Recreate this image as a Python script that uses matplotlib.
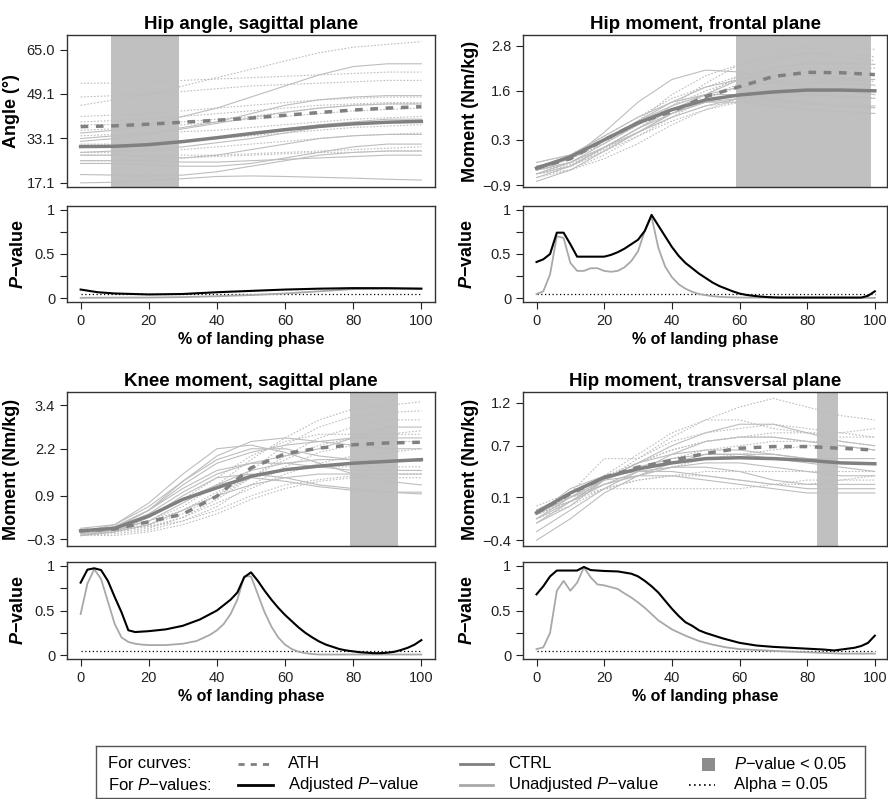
import matplotlib.pyplot as plt
from matplotlib.lines import Line2D
import numpy as np

plt.rcParams['font.family'] = ['Liberation Sans', 'DejaVu Sans']
plt.rcParams['mathtext.fontset'] = 'custom'
plt.rcParams['mathtext.rm'] = 'Liberation Sans'
plt.rcParams['mathtext.it'] = 'Liberation Sans:italic'
plt.rcParams['mathtext.bf'] = 'Liberation Sans:bold:italic'

pct = [0, 10, 20, 30, 40, 50, 60, 70, 80, 90, 100]

# ---- Hip angle, sagittal plane ----
hipang_ath = [
    [45, 47, 49, 52, 55, 58, 61, 64, 66, 67, 68],
    [53, 53, 53.5, 54, 54.5, 55, 55.5, 56, 56.5, 57, 57],
    [48, 48.5, 49, 50, 51, 52, 52.5, 53, 53.5, 54, 54],
    [41, 41.5, 42, 43, 44, 45, 46, 47, 47.5, 48, 48],
    [39, 39.5, 40, 41, 42, 43, 44, 45, 45.5, 46, 46],
    [36, 36.5, 37, 38, 39, 40, 41, 42, 43, 43.5, 44],
    [34, 34.5, 35, 35.5, 36, 37, 38, 39, 40, 40.5, 41],
    [31, 31, 31.5, 32, 33, 34, 35, 36, 37, 37.5, 38],
    [28, 28, 28.5, 29, 30, 31, 32, 33, 34, 34.5, 35],
    [25, 25, 25.5, 26, 26.5, 27, 27.5, 28, 28, 28.5, 28.5],
    [27, 27, 27, 27, 27, 27.5, 28, 28.5, 29, 29.5, 30],
    [38, 38, 38.5, 39, 40, 41, 42.5, 44, 45, 45.5, 45.5],
]
hipang_ctrl = [
    [17, 17.2, 17.8, 18.5, 19.3, 19.5, 19.3, 19, 18.7, 18.3, 18],
    [20, 19.8, 19.5, 19.8, 21, 23, 25, 27, 28, 28.5, 28.5],
    [35, 36, 38, 41, 44, 48, 52, 56, 59, 60, 60],
    [33, 34, 35, 37, 39, 42, 45, 47, 48, 48.5, 48.5],
    [28, 28.5, 29, 30, 31.5, 33, 35, 37, 38.5, 39, 39],
    [25, 25, 25, 24.5, 24.5, 25, 25.5, 26, 26.5, 27, 27],
    [30, 30.5, 31, 32, 33.5, 35, 36.5, 38, 39, 40, 40],
    [27, 27, 26.5, 26, 27, 29, 31, 33, 34, 34.5, 34.5],
    [32, 33, 34.5, 36.5, 38.5, 40.5, 42.5, 44, 45, 45.5, 45.5],
    [24, 24, 23.5, 23, 23, 24, 26, 28, 30, 31, 31],
]
hipang_ath_mean = [37.3, 37.6, 38.2, 38.9, 39.6, 40.4, 41.4, 42.4, 43.3, 44.0, 44.5]
hipang_ctrl_mean = [30.1, 30.2, 30.8, 31.9, 33.3, 34.8, 36.2, 37.4, 38.3, 38.9, 39.2]
hipang_p_x = [0, 5, 10, 20, 30, 40, 50, 60, 70, 80, 90, 100]
hipang_p_adj = [0.10, 0.07, 0.056, 0.045, 0.05, 0.07, 0.085, 0.10, 0.11, 0.116, 0.115, 0.11]
hipang_p_unadj = [0.007, 0.008, 0.009, 0.01, 0.015, 0.025, 0.038, 0.056, 0.08, 0.105, 0.112, 0.11]
hipang_sig = (9, 29)

# ---- Hip moment, frontal plane ----
hipfr_ath = [
    [-0.5, -0.3, 0.1, 0.6, 1.2, 1.8, 2.3, 2.6, 2.8, 2.8, 2.7],
    [-0.6, -0.4, 0.0, 0.5, 1.0, 1.5, 2.0, 2.4, 2.6, 2.6, 2.5],
    [-0.4, -0.2, 0.2, 0.7, 1.2, 1.6, 1.9, 2.1, 2.2, 2.2, 2.2],
    [-0.5, -0.4, 0.0, 0.4, 0.8, 1.1, 1.3, 1.4, 1.5, 1.5, 1.4],
    [-0.7, -0.5, -0.1, 0.4, 0.9, 1.4, 1.8, 2.0, 2.1, 2.1, 2.0],
    [-0.3, -0.1, 0.4, 0.9, 1.4, 1.7, 2.0, 2.2, 2.3, 2.3, 2.3],
    [-0.6, -0.5, -0.2, 0.2, 0.7, 1.1, 1.4, 1.7, 1.8, 1.9, 1.9],
    [-0.5, -0.3, 0.1, 0.5, 0.9, 1.2, 1.3, 1.3, 1.25, 1.2, 1.15],
    [-0.4, -0.2, 0.2, 0.8, 1.5, 2.0, 2.3, 2.5, 2.6, 2.5, 2.4],
    [-0.5, -0.35, 0.05, 0.5, 1.0, 1.4, 1.7, 1.85, 1.9, 1.9, 1.85],
]
hipfr_ctrl = [
    [-0.5, -0.2, 0.5, 1.3, 1.9, 2.15, 2.1, 1.9, 1.7, 1.6, 1.5],
    [-0.8, -0.5, 0.0, 0.5, 1.0, 1.3, 1.4, 1.35, 1.25, 1.2, 1.2],
    [-0.6, -0.4, 0.1, 0.6, 1.1, 1.5, 1.9, 2.2, 2.35, 2.35, 2.3],
    [-0.5, -0.3, 0.2, 0.7, 1.1, 1.3, 1.3, 1.2, 1.1, 1.05, 1.0],
    [-0.4, -0.2, 0.3, 0.8, 1.2, 1.5, 1.7, 1.8, 1.8, 1.8, 1.75],
    [-0.7, -0.4, 0.1, 0.6, 1.0, 1.3, 1.5, 1.6, 1.65, 1.65, 1.6],
    [-0.5, -0.1, 0.4, 0.9, 1.3, 1.5, 1.5, 1.4, 1.3, 1.2, 1.15],
    [-0.6, -0.3, 0.1, 0.5, 0.9, 1.2, 1.4, 1.5, 1.5, 1.45, 1.4],
    [-0.3, -0.1, 0.3, 0.8, 1.3, 1.7, 1.9, 2.0, 2.0, 1.95, 1.9],
]
hipfr_ath_mean = [-0.45, -0.2, 0.3, 0.75, 1.05, 1.45, 1.71, 1.98, 2.09, 2.08, 2.03]
hipfr_ctrl_mean = [-0.45, -0.15, 0.3, 0.75, 1.1, 1.36, 1.49, 1.57, 1.62, 1.62, 1.6]
hipfr_p_adj_x = [0, 2, 4, 6, 8, 10, 12, 20, 22, 24, 26, 28, 30, 32, 34, 36, 38, 40, 42, 44, 46, 48,
                 50, 52, 54, 56, 58, 60, 62, 64, 66, 68, 70, 72, 96, 98, 100]
hipfr_p_adj = [0.41, 0.44, 0.50, 0.74, 0.74, 0.61, 0.47, 0.47, 0.49, 0.52, 0.56, 0.61, 0.66, 0.76, 0.94,
               0.82, 0.70, 0.58, 0.48, 0.40, 0.34, 0.28, 0.23, 0.18, 0.14, 0.11, 0.08, 0.055, 0.04,
               0.03, 0.022, 0.016, 0.012, 0.01, 0.01, 0.03, 0.08]
hipfr_p_unadj_x = [0, 2, 4, 6, 8, 10, 12, 14, 16, 18, 20, 22, 24, 26, 28, 30, 32, 34, 36, 38, 40, 42,
                   44, 46, 48, 50, 52, 54, 56, 60, 100]
hipfr_p_unadj = [0.05, 0.08, 0.27, 0.70, 0.68, 0.40, 0.31, 0.31, 0.34, 0.34, 0.31, 0.30, 0.31, 0.35,
                 0.42, 0.53, 0.76, 0.92, 0.57, 0.36, 0.24, 0.16, 0.11, 0.075, 0.05, 0.037, 0.026,
                 0.019, 0.015, 0.01, 0.006]
hipfr_sig = (59, 99)

# ---- Knee moment, sagittal plane ----
knee_ath = [
    [-0.2, -0.1, 0.2, 0.6, 1.2, 1.9, 2.5, 3.0, 3.3, 3.4, 3.5],
    [-0.1, -0.05, 0.1, 0.4, 0.9, 1.6, 2.3, 2.8, 3.1, 3.2, 3.25],
    [-0.15, -0.1, 0.0, 0.3, 0.8, 1.4, 2.0, 2.5, 2.8, 3.0, 3.0],
    [-0.1, 0.0, 0.3, 0.8, 1.4, 2.0, 2.4, 2.6, 2.6, 2.6, 2.6],
    [-0.2, -0.15, -0.05, 0.2, 0.6, 1.2, 1.7, 2.1, 2.3, 2.4, 2.4],
    [-0.1, -0.05, 0.05, 0.3, 0.7, 1.1, 1.5, 1.8, 2.0, 2.1, 2.2],
    [-0.15, -0.1, 0.1, 0.5, 1.0, 1.4, 1.6, 1.7, 1.7, 1.7, 1.7],
    [-0.2, -0.2, -0.1, 0.1, 0.4, 0.8, 1.1, 1.3, 1.4, 1.4, 1.4],
    [-0.1, 0.0, 0.2, 0.5, 0.9, 1.4, 1.9, 2.3, 2.5, 2.6, 2.7],
    [-0.1, -0.05, 0.05, 0.2, 0.5, 0.9, 1.2, 1.35, 1.45, 1.5, 1.5],
]
knee_ctrl = [
    [-0.1, 0.1, 0.7, 1.5, 2.2, 2.3, 2.1, 1.8, 1.5, 1.3, 1.2],
    [-0.2, 0.0, 0.5, 1.3, 2.0, 2.4, 2.5, 2.4, 2.3, 2.2, 2.2],
    [-0.1, 0.0, 0.4, 1.0, 1.5, 1.8, 2.0, 2.2, 2.5, 2.8, 2.8],
    [-0.2, -0.1, 0.3, 0.9, 1.4, 1.5, 1.4, 1.2, 1.1, 1.0, 0.95],
    [-0.1, 0.05, 0.5, 1.1, 1.6, 1.8, 1.8, 1.7, 1.6, 1.6, 1.6],
    [0.0, 0.1, 0.6, 1.3, 1.9, 2.2, 2.2, 2.0, 1.9, 1.9, 1.9],
    [-0.2, -0.1, 0.1, 0.5, 0.9, 1.2, 1.4, 1.5, 1.5, 1.5, 1.5],
    [-0.1, 0.0, 0.3, 0.8, 1.2, 1.4, 1.3, 1.15, 1.05, 1.0, 1.0],
    [-0.15, 0.0, 0.5, 1.2, 1.8, 2.1, 2.3, 2.4, 2.5, 2.5, 2.5],
    [-0.2, -0.05, 0.2, 0.7, 1.2, 1.6, 1.8, 1.9, 1.9, 1.9, 1.85],
]
knee_ath_mean = [-0.07, -0.02, 0.18, 0.39, 0.89, 1.67, 2.06, 2.22, 2.31, 2.36, 2.38]
knee_ctrl_mean = [-0.07, 0.0, 0.34, 0.8, 1.12, 1.44, 1.62, 1.72, 1.8, 1.85, 1.9]
knee_p_adj_x = [0, 2, 4, 6, 8, 10, 12, 14, 16, 20, 25, 30, 35, 40, 44, 46, 48, 50, 52, 54, 56, 58,
                60, 62, 64, 66, 68, 70, 72, 74, 76, 78, 80, 82, 84, 86, 88, 90, 92, 94, 96, 98, 100]
knee_p_adj = [0.81, 0.955, 0.97, 0.95, 0.83, 0.65, 0.48, 0.28, 0.26, 0.27, 0.29, 0.33, 0.40, 0.50,
              0.62, 0.70, 0.87, 0.925, 0.83, 0.72, 0.62, 0.53, 0.45, 0.38, 0.31, 0.25, 0.20, 0.155,
              0.12, 0.095, 0.07, 0.055, 0.045, 0.035, 0.03, 0.025, 0.025, 0.03, 0.04, 0.06, 0.085,
              0.12, 0.17]
knee_p_unadj_x = [0, 2, 4, 6, 8, 10, 12, 14, 16, 18, 20, 25, 30, 34, 38, 40, 42, 44, 46, 48, 50, 52,
                  54, 56, 58, 60, 62, 64, 66, 68, 70, 100]
knee_p_unadj = [0.46, 0.80, 0.96, 0.85, 0.60, 0.35, 0.20, 0.15, 0.13, 0.12, 0.115, 0.115, 0.13, 0.16,
                0.23, 0.28, 0.35, 0.46, 0.62, 0.88, 0.88, 0.68, 0.48, 0.32, 0.20, 0.12, 0.07, 0.04,
                0.025, 0.015, 0.01, 0.01]
knee_sig = (79, 93)

# ---- Hip moment, transversal plane ----
hiptr_ath = [
    [-0.05, 0.1, 0.35, 0.6, 0.85, 1.0, 1.15, 1.25, 1.15, 1.05, 1.0],
    [-0.05, 0.15, 0.55, 0.55, 0.8, 1.0, 1.0, 0.9, 0.85, 0.8, 0.8],
    [-0.1, 0.1, 0.3, 0.5, 0.65, 0.75, 0.8, 0.85, 0.85, 0.85, 0.9],
    [-0.1, 0.05, 0.25, 0.35, 0.45, 0.55, 0.6, 0.65, 0.7, 0.7, 0.65],
    [-0.15, 0.0, 0.2, 0.3, 0.35, 0.4, 0.4, 0.4, 0.4, 0.4, 0.4],
    [-0.05, 0.1, 0.2, 0.2, 0.2, 0.2, 0.2, 0.25, 0.3, 0.3, 0.3],
    [0.0, 0.15, 0.35, 0.5, 0.65, 0.75, 0.8, 0.8, 0.75, 0.7, 0.65],
    [-0.1, 0.05, 0.3, 0.45, 0.55, 0.65, 0.7, 0.75, 0.75, 0.75, 0.7],
    [-0.05, 0.05, 0.2, 0.3, 0.35, 0.35, 0.3, 0.25, 0.25, 0.3, 0.35],
    [-0.1, 0.05, 0.3, 0.55, 0.75, 0.85, 0.9, 0.95, 0.9, 0.85, 0.8],
]
hiptr_ctrl = [
    [-0.4, -0.15, 0.15, 0.35, 0.5, 0.6, 0.6, 0.55, 0.5, 0.45, 0.4],
    [-0.2, 0.05, 0.3, 0.5, 0.7, 0.85, 0.95, 0.95, 0.85, 0.75, 0.7],
    [-0.1, 0.2, 0.35, 0.4, 0.4, 0.35, 0.3, 0.25, 0.2, 0.2, 0.2],
    [-0.15, 0.1, 0.3, 0.45, 0.55, 0.6, 0.6, 0.6, 0.55, 0.5, 0.5],
    [-0.05, 0.15, 0.3, 0.35, 0.35, 0.3, 0.25, 0.2, 0.15, 0.15, 0.15],
    [-0.3, -0.05, 0.2, 0.4, 0.6, 0.75, 0.8, 0.8, 0.75, 0.7, 0.65],
    [-0.1, 0.1, 0.25, 0.35, 0.45, 0.5, 0.5, 0.45, 0.4, 0.35, 0.35],
    [-0.2, 0.0, 0.3, 0.5, 0.6, 0.65, 0.65, 0.6, 0.55, 0.55, 0.55],
    [-0.15, 0.05, 0.25, 0.4, 0.45, 0.45, 0.4, 0.3, 0.25, 0.25, 0.25],
]
hiptr_ath_mean = [-0.08, 0.14, 0.33, 0.45, 0.53, 0.61, 0.67, 0.69, 0.69, 0.67, 0.65]
hiptr_ctrl_mean = [-0.08, 0.15, 0.33, 0.43, 0.5, 0.55, 0.56, 0.55, 0.53, 0.5, 0.49]
hiptr_p_adj_x = [0, 2, 4, 6, 12, 14, 16, 20, 24, 28, 30, 32, 34, 36, 38, 40, 42, 44, 46, 48, 50, 55,
                 60, 65, 70, 75, 80, 85, 88, 90, 94, 96, 98, 100]
hiptr_p_adj = [0.68, 0.77, 0.88, 0.945, 0.945, 0.985, 0.95, 0.94, 0.935, 0.91, 0.88, 0.83, 0.77, 0.70,
               0.61, 0.52, 0.44, 0.37, 0.33, 0.28, 0.25, 0.19, 0.14, 0.11, 0.095, 0.085, 0.075, 0.065,
               0.055, 0.065, 0.085, 0.105, 0.14, 0.22]
hiptr_p_unadj_x = [0, 2, 4, 6, 8, 10, 12, 14, 16, 18, 20, 22, 24, 26, 28, 30, 32, 34, 36, 38, 40, 44,
                   48, 52, 56, 60, 70, 80, 90, 100]
hiptr_p_unadj = [0.07, 0.09, 0.25, 0.72, 0.83, 0.72, 0.81, 0.98, 0.87, 0.79, 0.78, 0.76, 0.74, 0.69,
                 0.645, 0.59, 0.53, 0.46, 0.39, 0.34, 0.29, 0.22, 0.16, 0.12, 0.09, 0.07, 0.05, 0.035,
                 0.02, 0.02]
hiptr_sig = (83, 89)

panels = [
    dict(title='Hip angle, sagittal plane', ylabel='Angle (°)', ath=hipang_ath, ctrl=hipang_ctrl,
         ath_mean=hipang_ath_mean, ctrl_mean=hipang_ctrl_mean, sig=hipang_sig,
         yticks=[17.1, 33.1, 49.1, 65.0], ylim=(15.5, 70.4),
         padj=(hipang_p_x, hipang_p_adj), punadj=(hipang_p_x, hipang_p_unadj)),
    dict(title='Hip moment, frontal plane', ylabel='Moment (Nm/kg)', ath=hipfr_ath, ctrl=hipfr_ctrl,
         ath_mean=hipfr_ath_mean, ctrl_mean=hipfr_ctrl_mean, sig=hipfr_sig,
         yticks=[-0.9, 0.3, 1.6, 2.8], ylim=(-0.95, 3.08),
         padj=(hipfr_p_adj_x, hipfr_p_adj), punadj=(hipfr_p_unadj_x, hipfr_p_unadj)),
    dict(title='Knee moment, sagittal plane', ylabel='Moment (Nm/kg)', ath=knee_ath, ctrl=knee_ctrl,
         ath_mean=knee_ath_mean, ctrl_mean=knee_ctrl_mean, sig=knee_sig,
         yticks=[-0.3, 0.9, 2.2, 3.4], ylim=(-0.49, 3.77),
         padj=(knee_p_adj_x, knee_p_adj), punadj=(knee_p_unadj_x, knee_p_unadj)),
    dict(title='Hip moment, transversal plane', ylabel='Moment (Nm/kg)', ath=hiptr_ath, ctrl=hiptr_ctrl,
         ath_mean=hiptr_ath_mean, ctrl_mean=hiptr_ctrl_mean, sig=hiptr_sig,
         yticks=[-0.4, 0.1, 0.7, 1.2], ylim=(-0.467, 1.325),
         padj=(hiptr_p_adj_x, hiptr_p_adj), punadj=(hiptr_p_unadj_x, hiptr_p_unadj)),
]

W, H = 888, 799
fig = plt.figure(figsize=(W / 100, H / 100), dpi=100)

light = '#bdbdbd'
mean_col = '#808080'
shade = '#c0c0c0'


def px_axes(x0, y0, x1, y1):
    return fig.add_axes([x0 / W, 1 - y1 / H, (x1 - x0) / W, (y1 - y0) / H])


def style(ax):
    for s in ax.spines.values():
        s.set_linewidth(1.0)
        s.set_color('#333333')
    ax.tick_params(direction='out', length=5, width=0.8, labelsize=10.5, colors='#222222')


cols = [(67, 435, 104), (523, 887, 103.6)]
rows = [(35, 187, 206, 302), (392, 546, 562, 659)]

for i, p in enumerate(panels):
    x0, x1, xr = cols[i % 2]
    ya0, ya1, yb0, yb1 = rows[i // 2]
    ax = px_axes(x0, ya0, x1, ya1)
    ax.axvspan(p['sig'][0], p['sig'][1], color=shade, lw=0, zorder=0)
    for c in p['ath']:
        ax.plot(pct, c, color=light, lw=0.8, ls=(0, (1.5, 1.5)), zorder=1)
    for c in p['ctrl']:
        ax.plot(pct, c, color=light, lw=0.8, zorder=1)
    ax.plot(pct, p['ctrl_mean'], color=mean_col, lw=2.5, zorder=3)
    ax.plot(pct, p['ath_mean'], color=mean_col, lw=2.5, dashes=(2.2, 2.2), zorder=3)
    ax.set_xlim(-4, xr)
    ax.set_ylim(*p['ylim'])
    ax.set_xticks([])
    ax.set_yticks(p['yticks'])
    ax.set_yticklabels([f'{v:.1f}'.replace('-', '\u2212') for v in p['yticks']])
    ax.set_title(p['title'], fontsize=13.5, fontweight='bold', pad=4)
    ax.set_ylabel(p['ylabel'], fontsize=13, fontweight='bold')
    ax.yaxis.set_label_coords(-0.128 if i % 2 == 0 else -0.121, 0.5)
    style(ax)

    bx = px_axes(x0, yb0, x1, yb1)
    bx.plot(p['punadj'][0], p['punadj'][1], color='#a8a8a8', lw=1.3, zorder=2)
    bx.plot(p['padj'][0], p['padj'][1], color='black', lw=1.5, zorder=3)
    bx.plot([0, 100], [0.05, 0.05], color='black', lw=0.9, ls=(0, (1, 2)), zorder=1)
    bx.set_xlim(-4, xr)
    bx.set_ylim(-0.04, 1.04)
    bx.set_xticks([0, 20, 40, 60, 80, 100])
    bx.set_yticks([0, 0.25, 0.5, 0.75, 1])
    bx.set_yticklabels(['0', '', '0.5', '', '1'])
    bx.set_xlabel('% of landing phase', fontsize=11.5, fontweight='bold', labelpad=3)
    bx.set_ylabel(r'$\mathbf{P}$' + '\u2212value', fontsize=13, fontweight='bold')
    bx.yaxis.set_label_coords(-0.108 if i % 2 == 0 else -0.13, 0.5)
    style(bx)

# legend box
lx0, lx1, ly0, ly1 = 96, 865, 746, 798
lg = px_axes(lx0, ly0, lx1, ly1)
lg.set_xlim(lx0, lx1)
lg.set_ylim(ly1, ly0)
lg.set_xticks([])
lg.set_yticks([])
for s in lg.spines.values():
    s.set_linewidth(1.0)
    s.set_color('#555555')
fs = 12
r1, r2 = 764, 785
lg.text(108, r1, 'For curves:', fontsize=fs, va='center')
lg.text(108, r2, 'For $P$\u2212values:', fontsize=fs, va='center')
lg.add_line(Line2D([238, 273], [r1, r1], color=mean_col, lw=2, dashes=(2.2, 2.2)))
lg.text(288, r1, 'ATH', fontsize=fs, va='center')
lg.add_line(Line2D([238, 273], [r2, r2], color='black', lw=2))
lg.text(288, r2, 'Adjusted $P$\u2212value', fontsize=fs, va='center')
lg.add_line(Line2D([460, 493], [r1, r1], color=mean_col, lw=2))
lg.text(508, r1, 'CTRL', fontsize=fs, va='center')
lg.add_line(Line2D([460, 493], [r2, r2], color='#a8a8a8', lw=2))
lg.text(508, r2, 'Unadjusted $P$\u2212value', fontsize=fs, va='center')
lg.add_patch(plt.Rectangle((702, r1 - 6.5), 13, 13, color='#8c8c8c', lw=0))
lg.text(734, r1, '$P$\u2212value < 0.05', fontsize=fs, va='center')
lg.add_line(Line2D([689, 715], [r2, r2], color='black', lw=1.2, ls=(0, (1, 2))))
lg.text(734, r2, 'Alpha = 0.05', fontsize=fs, va='center')

fig.savefig('out.png', dpi=100)
